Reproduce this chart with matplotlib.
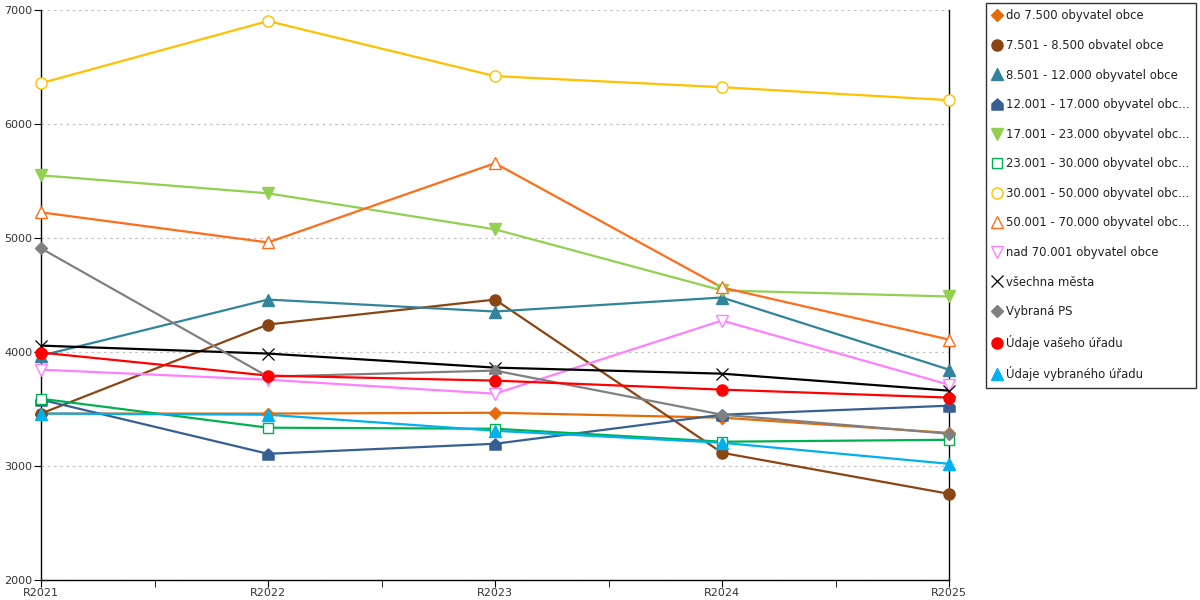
import matplotlib.pyplot as plt
from matplotlib.path import Path
from matplotlib.ticker import MultipleLocator

years = ["R2021", "R2022", "R2023", "R2024", "R2025"]

labels = [
    "do 7.500 obyvatel obce",
    "7.501 - 8.500 obvatel obce",
    "8.501 - 12.000 obyvatel obce",
    "12.001 - 17.000 obyvatel obc...",
    "17.001 - 23.000 obyvatel obc...",
    "23.001 - 30.000 obyvatel obc...",
    "30.001 - 50.000 obyvatel obc...",
    "50.001 - 70.000 obyvatel obc...",
    "nad 70.001 obyvatel obce",
    "všechna města",
    "Vybraná PS",
    "Údaje vašeho úřadu",
    "Údaje vybraného úřadu",
]

do_7500 = [3460, 3460, 3467, 3424, 3290]
s_8500 = [3460, 4241, 4460, 3116, 2756]
s_12000 = [3968, 4460, 4355, 4478, 3845]
s_17000 = [3582, 3107, 3195, 3450, 3529]
s_23000 = [5550, 5392, 5076, 4540, 4487]
s_30000 = [3590, 3336, 3327, 3213, 3230]
s_50000 = [6358, 6903, 6420, 6323, 6209]
s_70000 = [5225, 4961, 5656, 4566, 4109]
nad_70001 = [3845, 3757, 3634, 4276, 3713]
vsechna = [4056, 3986, 3863, 3810, 3661]
vybrana_ps = [4909, 3784, 3837, 3450, 3283]
vas_urad = [3995, 3793, 3749, 3670, 3600]
vybrany_urad = [3460, 3450, 3309, 3204, 3019]

series = [do_7500, s_8500, s_12000, s_17000, s_23000, s_30000, s_50000,
          s_70000, nad_70001, vsechna, vybrana_ps, vas_urad, vybrany_urad]

# "house" marker used for the 12.001 - 17.000 series
house = Path([(-1, -1), (1, -1), (1, 0.1), (0, 1), (-1, 0.1), (-1, -1)],
             [Path.MOVETO] + [Path.LINETO] * 4 + [Path.CLOSEPOLY])

colors = ["#E46C0A", "#8B4513", "#31849B", "#376092", "#92D050", "#00B050",
          "#FFC000", "#FF6D1A", "#FF80FF", "#000000", "#808080", "#FF0000",
          "#00B0F0"]
markers = ["D", "o", "^", house, "v", "s", "o", "^", "v", "x", "D", "o", "^"]
filled = [True, True, True, True, True, False, False, False, False, True,
          True, True, True]
sizes = [6, 8, 8.5, 8, 8.5, 7.5, 8, 8.5, 8.5, 8.5, 6.5, 8, 8.5]

plt.rcParams['font.family'] = ['DejaVu Sans']

fig = plt.figure(figsize=(12, 6), dpi=100)
ax = fig.add_axes([41 / 1200, 20 / 600, 908 / 1200, 570 / 600])

x = range(len(years))
handles = []
for vals, lab, c, m, f, ms in zip(series, labels, colors, markers, filled, sizes):
    ax.plot(x, vals, color=c, lw=1.6, zorder=2)
    if isinstance(m, str) and m == "x":
        h = ax.plot(x, vals, ls="none", marker="x", ms=ms, color=c,
                    mew=0.9, clip_on=False, zorder=3, label=lab)[0]
    else:
        h = ax.plot(x, vals, ls="none", marker=m, ms=ms, clip_on=False,
                    markerfacecolor=c if f else "white", markeredgecolor=c,
                    mew=1.0, zorder=3, label=lab)[0]
    handles.append(h)

ax.set_xlim(0, 4)
ax.set_ylim(2000, 7000)
ax.set_xticks(list(x))
ax.set_xticklabels(years)
ax.xaxis.set_minor_locator(MultipleLocator(0.5))
ax.yaxis.set_major_locator(MultipleLocator(1000))

ax.grid(axis="y", color="#c0c0c0", ls=(0, (2, 3)), lw=0.9)
ax.set_axisbelow(True)
for s in ["left", "bottom", "right"]:
    ax.spines[s].set_color("black")
    ax.spines[s].set_linewidth(1.0)
ax.spines["top"].set_visible(False)

ax.tick_params(axis="both", labelsize=8, colors="black", labelcolor="#333333")
ax.tick_params(axis="x", which="major", length=5, pad=0.5)
ax.tick_params(axis="x", which="minor", length=5)
ax.tick_params(axis="y", length=5, pad=1)
ax.tick_params(axis="y", which="both", right=False)

leg = fig.legend(handles=handles, loc="upper left",
                 bbox_to_anchor=(986 / 1200, 597 / 600), fontsize=8.4,
                 frameon=True, fancybox=False, edgecolor="black",
                 handlelength=0.7, handletextpad=0.45, labelspacing=1.42,
                 borderpad=0.55, borderaxespad=0)
leg.get_frame().set_linewidth(1.0)
for t in leg.get_texts():
    t.set_color("#222222")

fig.savefig("out.png", dpi=100)
